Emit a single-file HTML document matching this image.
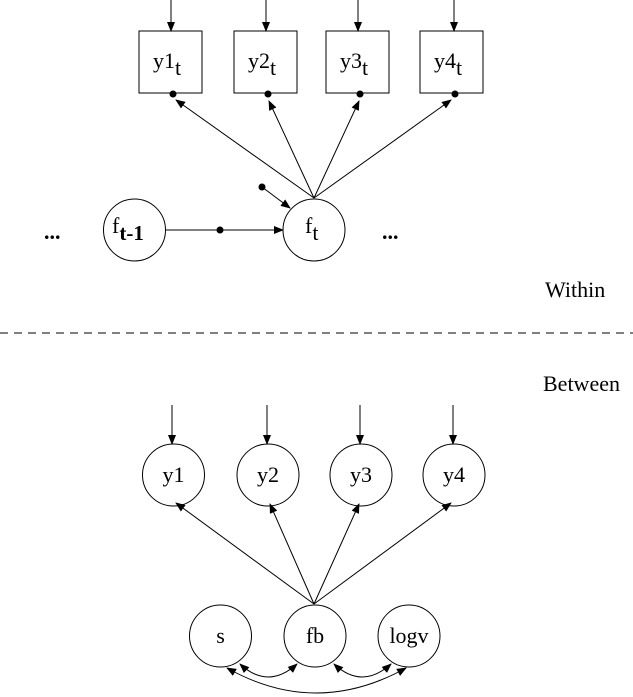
<!DOCTYPE html>
<html><head><style>body{margin:0;background:#fff}svg{display:block}text{font-family:"Liberation Serif",serif;font-size:22px;fill:#000}</style></head><body>
<svg width="633" height="697" viewBox="0 0 633 697" xmlns="http://www.w3.org/2000/svg">
<defs><marker id="a" markerWidth="10" markerHeight="8" refX="9" refY="4" orient="auto" markerUnits="userSpaceOnUse"><path d="M0,0 L10,4 L0,8 Z" fill="#000"/></marker>
<marker id="b" markerWidth="10" markerHeight="8" refX="1" refY="4" orient="auto" markerUnits="userSpaceOnUse"><path d="M10,0 L0,4 L10,8 Z" fill="#000"/></marker></defs>
<g stroke="#000" stroke-width="1" fill="none">
<line x1="171" y1="0" x2="171" y2="31" marker-end="url(#a)"/>
<line x1="266" y1="0" x2="266" y2="31" marker-end="url(#a)"/>
<line x1="358" y1="0" x2="358" y2="31" marker-end="url(#a)"/>
<line x1="454" y1="0" x2="454" y2="31" marker-end="url(#a)"/>
<rect x="139" y="31" width="63" height="62"/>
<rect x="234" y="31" width="63" height="62"/>
<rect x="326" y="31" width="63" height="62"/>
<rect x="420" y="31" width="63" height="62"/>
<line x1="314" y1="198" x2="176" y2="100" marker-end="url(#a)"/>
<line x1="314" y1="198" x2="269" y2="101" marker-end="url(#a)"/>
<line x1="314" y1="198" x2="359" y2="101" marker-end="url(#a)"/>
<line x1="314" y1="198" x2="451" y2="100" marker-end="url(#a)"/>
<circle cx="134.5" cy="230" r="31"/>
<circle cx="314" cy="230" r="31"/>
<line x1="166" y1="230" x2="283" y2="230" marker-end="url(#a)"/>
<line x1="262" y1="187" x2="290" y2="208" marker-end="url(#a)"/>
<line x1="0" y1="333" x2="633" y2="333" stroke-dasharray="8,6"/>
<line x1="172" y1="405" x2="172" y2="444" marker-end="url(#a)"/>
<line x1="267" y1="405" x2="267" y2="444" marker-end="url(#a)"/>
<line x1="360" y1="405" x2="360" y2="444" marker-end="url(#a)"/>
<line x1="453" y1="405" x2="453" y2="444" marker-end="url(#a)"/>
<circle cx="173.5" cy="475" r="31"/>
<circle cx="268" cy="475" r="31"/>
<circle cx="361" cy="475" r="31"/>
<circle cx="454" cy="475" r="31"/>
<line x1="314" y1="604" x2="176" y2="503" marker-end="url(#a)"/>
<line x1="314" y1="604" x2="270" y2="504" marker-end="url(#a)"/>
<line x1="314" y1="604" x2="359" y2="504" marker-end="url(#a)"/>
<line x1="314" y1="604" x2="451" y2="503" marker-end="url(#a)"/>
<circle cx="220.5" cy="636" r="31"/>
<circle cx="315" cy="636" r="31"/>
<circle cx="409" cy="636" r="31"/>
<path d="M240,664 Q268,690 297,664" marker-start="url(#b)" marker-end="url(#a)"/>
<path d="M334,664 Q362,690 391,664" marker-start="url(#b)" marker-end="url(#a)"/>
<path d="M227,668 Q316,718 406,668" marker-start="url(#b)" marker-end="url(#a)"/>
</g>
<g fill="#000">
<circle cx="173" cy="94" r="3.5"/><circle cx="268" cy="94" r="3.5"/><circle cx="360" cy="94" r="3.5"/><circle cx="455" cy="94" r="3.5"/>
<circle cx="220" cy="230" r="3.5"/><circle cx="262" cy="187" r="3.5"/>
</g>
<text x="153" y="68">y1<tspan dy="7">t</tspan></text>
<text x="248" y="68">y2<tspan dy="7">t</tspan></text>
<text x="340" y="68">y3<tspan dy="7">t</tspan></text>
<text x="434" y="68">y4<tspan dy="7">t</tspan></text>
<text x="112" y="233">f<tspan dy="7" font-weight="bold" font-size="21">t-1</tspan></text>
<text x="305" y="233">f<tspan dy="7">t</tspan></text>
<text x="44" y="239" font-weight="bold">...</text>
<text x="382" y="239" font-weight="bold">...</text>
<text x="545" y="297">Within</text>
<text x="543" y="391">Between</text>
<text x="173.5" y="482" text-anchor="middle">y1</text>
<text x="268" y="482" text-anchor="middle">y2</text>
<text x="361" y="482" text-anchor="middle">y3</text>
<text x="454" y="482" text-anchor="middle">y4</text>
<text x="220.5" y="643" text-anchor="middle">s</text>
<text x="315" y="643" text-anchor="middle">fb</text>
<text x="409" y="643" text-anchor="middle">logv</text>
</svg>
</body></html>
